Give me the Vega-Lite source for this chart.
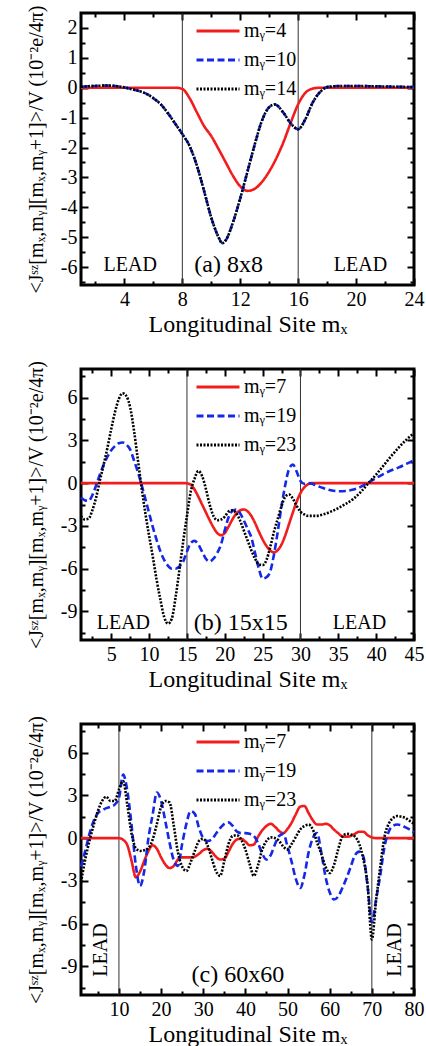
{
  "$schema": "https://vega.github.io/schema/vega-lite/v6.json",
  "padding": {"left": 24, "top": 0, "right": 5, "bottom": 5},
  "bounds": "flush",
  "spacing": 84,
  "resolve": {"scale": {"color": "independent", "strokeDash": "independent"}},
  "config": {
    "font": "Liberation Serif",
    "view": {"stroke": "black", "strokeWidth": 3},
    "axis": {"grid": false, "domain": false, "labelFont": "Liberation Serif", "labelFontSize": 20, "labelColor": "black", "titleFont": "Liberation Serif", "titleFontSize": 24, "titleFontWeight": "normal", "titleColor": "black", "tickColor": "black", "tickWidth": 2, "labelFlush": false, "labelOverlap": false, "labelPadding": 11},
    "legend": {"orient": "none", "title": null, "symbolType": "stroke", "symbolSize": 1849, "symbolStrokeWidth": 3, "clipHeight": 20, "rowPadding": 9, "labelOffset": 3, "labelFont": "Liberation Serif", "labelFontSize": 20, "labelColor": "black", "padding": 0}
  },
  "datasets": {
    "a": [
      {"x":1,"v":0,"s":"mᵧ=4"},{"x":4,"v":0,"s":"mᵧ=4"},{"x":7,"v":0,"s":"mᵧ=4"},{"x":7.5,"v":0,"s":"mᵧ=4"},{"x":8,"v":-0.04,"s":"mᵧ=4"},{"x":8.5,"v":-0.35,"s":"mᵧ=4"},{"x":9,"v":-0.82,"s":"mᵧ=4"},{"x":9.5,"v":-1.28,"s":"mᵧ=4"},{"x":10,"v":-1.62,"s":"mᵧ=4"},{"x":10.5,"v":-2.05,"s":"mᵧ=4"},{"x":11,"v":-2.5,"s":"mᵧ=4"},{"x":11.5,"v":-2.95,"s":"mᵧ=4"},{"x":12,"v":-3.3,"s":"mᵧ=4"},{"x":12.5,"v":-3.45,"s":"mᵧ=4"},{"x":13,"v":-3.38,"s":"mᵧ=4"},{"x":13.5,"v":-3.15,"s":"mᵧ=4"},{"x":14,"v":-2.8,"s":"mᵧ=4"},{"x":14.5,"v":-2.35,"s":"mᵧ=4"},{"x":15,"v":-1.8,"s":"mᵧ=4"},{"x":15.5,"v":-1.15,"s":"mᵧ=4"},{"x":16,"v":-0.55,"s":"mᵧ=4"},{"x":16.5,"v":-0.17,"s":"mᵧ=4"},{"x":17,"v":-0.03,"s":"mᵧ=4"},{"x":17.5,"v":0,"s":"mᵧ=4"},{"x":20,"v":0,"s":"mᵧ=4"},{"x":24,"v":0,"s":"mᵧ=4"},
      {"x":1,"v":0.03,"s":"mᵧ=10"},{"x":1.5,"v":0.05,"s":"mᵧ=10"},{"x":2,"v":0.06,"s":"mᵧ=10"},{"x":2.5,"v":0.07,"s":"mᵧ=10"},{"x":3,"v":0.07,"s":"mᵧ=10"},{"x":3.5,"v":0.05,"s":"mᵧ=10"},{"x":4,"v":0.01,"s":"mᵧ=10"},{"x":4.5,"v":-0.05,"s":"mᵧ=10"},{"x":5,"v":-0.11,"s":"mᵧ=10"},{"x":5.5,"v":-0.2,"s":"mᵧ=10"},{"x":6,"v":-0.35,"s":"mᵧ=10"},{"x":6.5,"v":-0.55,"s":"mᵧ=10"},{"x":7,"v":-0.85,"s":"mᵧ=10"},{"x":7.5,"v":-1.2,"s":"mᵧ=10"},{"x":8,"v":-1.55,"s":"mᵧ=10"},{"x":8.5,"v":-1.95,"s":"mᵧ=10"},{"x":9,"v":-2.6,"s":"mᵧ=10"},{"x":9.5,"v":-3.45,"s":"mᵧ=10"},{"x":10,"v":-4.35,"s":"mᵧ=10"},{"x":10.5,"v":-5.0,"s":"mᵧ=10"},{"x":10.75,"v":-5.2,"s":"mᵧ=10"},{"x":11,"v":-5.1,"s":"mᵧ=10"},{"x":11.5,"v":-4.5,"s":"mᵧ=10"},{"x":12,"v":-3.7,"s":"mᵧ=10"},{"x":12.5,"v":-2.8,"s":"mᵧ=10"},{"x":13,"v":-1.9,"s":"mᵧ=10"},{"x":13.5,"v":-1.1,"s":"mᵧ=10"},{"x":14,"v":-0.65,"s":"mᵧ=10"},{"x":14.4,"v":-0.56,"s":"mᵧ=10"},{"x":15,"v":-0.85,"s":"mᵧ=10"},{"x":15.5,"v":-1.2,"s":"mᵧ=10"},{"x":16,"v":-1.39,"s":"mᵧ=10"},{"x":16.5,"v":-1.05,"s":"mᵧ=10"},{"x":17,"v":-0.5,"s":"mᵧ=10"},{"x":17.5,"v":-0.15,"s":"mᵧ=10"},{"x":18,"v":0.02,"s":"mᵧ=10"},{"x":18.5,"v":0.05,"s":"mᵧ=10"},{"x":19,"v":0.06,"s":"mᵧ=10"},{"x":20,"v":0.06,"s":"mᵧ=10"},{"x":21,"v":0.05,"s":"mᵧ=10"},{"x":22,"v":0.04,"s":"mᵧ=10"},{"x":23,"v":0.03,"s":"mᵧ=10"},{"x":24,"v":0.02,"s":"mᵧ=10"},
      {"x":1,"v":0.03,"s":"mᵧ=14"},{"x":1.5,"v":0.05,"s":"mᵧ=14"},{"x":2,"v":0.06,"s":"mᵧ=14"},{"x":2.5,"v":0.07,"s":"mᵧ=14"},{"x":3,"v":0.07,"s":"mᵧ=14"},{"x":3.5,"v":0.05,"s":"mᵧ=14"},{"x":4,"v":0.01,"s":"mᵧ=14"},{"x":4.5,"v":-0.05,"s":"mᵧ=14"},{"x":5,"v":-0.11,"s":"mᵧ=14"},{"x":5.5,"v":-0.2,"s":"mᵧ=14"},{"x":6,"v":-0.35,"s":"mᵧ=14"},{"x":6.5,"v":-0.55,"s":"mᵧ=14"},{"x":7,"v":-0.85,"s":"mᵧ=14"},{"x":7.5,"v":-1.2,"s":"mᵧ=14"},{"x":8,"v":-1.55,"s":"mᵧ=14"},{"x":8.5,"v":-1.95,"s":"mᵧ=14"},{"x":9,"v":-2.6,"s":"mᵧ=14"},{"x":9.5,"v":-3.45,"s":"mᵧ=14"},{"x":10,"v":-4.35,"s":"mᵧ=14"},{"x":10.5,"v":-5.0,"s":"mᵧ=14"},{"x":10.75,"v":-5.2,"s":"mᵧ=14"},{"x":11,"v":-5.1,"s":"mᵧ=14"},{"x":11.5,"v":-4.5,"s":"mᵧ=14"},{"x":12,"v":-3.7,"s":"mᵧ=14"},{"x":12.5,"v":-2.8,"s":"mᵧ=14"},{"x":13,"v":-1.9,"s":"mᵧ=14"},{"x":13.5,"v":-1.1,"s":"mᵧ=14"},{"x":14,"v":-0.65,"s":"mᵧ=14"},{"x":14.4,"v":-0.56,"s":"mᵧ=14"},{"x":15,"v":-0.85,"s":"mᵧ=14"},{"x":15.5,"v":-1.2,"s":"mᵧ=14"},{"x":16,"v":-1.39,"s":"mᵧ=14"},{"x":16.5,"v":-1.05,"s":"mᵧ=14"},{"x":17,"v":-0.5,"s":"mᵧ=14"},{"x":17.5,"v":-0.15,"s":"mᵧ=14"},{"x":18,"v":0.02,"s":"mᵧ=14"},{"x":18.5,"v":0.05,"s":"mᵧ=14"},{"x":19,"v":0.06,"s":"mᵧ=14"},{"x":20,"v":0.06,"s":"mᵧ=14"},{"x":21,"v":0.05,"s":"mᵧ=14"},{"x":22,"v":0.04,"s":"mᵧ=14"},{"x":23,"v":0.03,"s":"mᵧ=14"},{"x":24,"v":0.02,"s":"mᵧ=14"}
    ],
    "b": [
      {"x":1,"v":0,"s":"mᵧ=7"},{"x":5,"v":0,"s":"mᵧ=7"},{"x":10,"v":0,"s":"mᵧ=7"},{"x":14.5,"v":0,"s":"mᵧ=7"},{"x":15,"v":-0.02,"s":"mᵧ=7"},{"x":15.5,"v":-0.12,"s":"mᵧ=7"},{"x":16,"v":-0.45,"s":"mᵧ=7"},{"x":16.5,"v":-0.95,"s":"mᵧ=7"},{"x":17,"v":-1.5,"s":"mᵧ=7"},{"x":17.5,"v":-2.05,"s":"mᵧ=7"},{"x":18,"v":-2.6,"s":"mᵧ=7"},{"x":18.5,"v":-3.1,"s":"mᵧ=7"},{"x":19,"v":-3.5,"s":"mᵧ=7"},{"x":19.5,"v":-3.65,"s":"mᵧ=7"},{"x":20,"v":-3.5,"s":"mᵧ=7"},{"x":20.5,"v":-3.05,"s":"mᵧ=7"},{"x":21,"v":-2.55,"s":"mᵧ=7"},{"x":21.5,"v":-2.15,"s":"mᵧ=7"},{"x":22,"v":-1.92,"s":"mᵧ=7"},{"x":22.5,"v":-1.85,"s":"mᵧ=7"},{"x":23,"v":-1.97,"s":"mᵧ=7"},{"x":23.5,"v":-2.3,"s":"mᵧ=7"},{"x":24,"v":-2.8,"s":"mᵧ=7"},{"x":24.5,"v":-3.4,"s":"mᵧ=7"},{"x":25,"v":-3.95,"s":"mᵧ=7"},{"x":25.5,"v":-4.4,"s":"mᵧ=7"},{"x":26,"v":-4.72,"s":"mᵧ=7"},{"x":26.5,"v":-4.85,"s":"mᵧ=7"},{"x":27,"v":-4.7,"s":"mᵧ=7"},{"x":27.5,"v":-4.3,"s":"mᵧ=7"},{"x":28,"v":-3.65,"s":"mᵧ=7"},{"x":28.5,"v":-2.85,"s":"mᵧ=7"},{"x":29,"v":-2.05,"s":"mᵧ=7"},{"x":29.5,"v":-1.3,"s":"mᵧ=7"},{"x":30,"v":-0.7,"s":"mᵧ=7"},{"x":30.5,"v":-0.3,"s":"mᵧ=7"},{"x":31,"v":-0.08,"s":"mᵧ=7"},{"x":31.5,"v":0,"s":"mᵧ=7"},{"x":35,"v":0,"s":"mᵧ=7"},{"x":40,"v":0,"s":"mᵧ=7"},{"x":45,"v":0,"s":"mᵧ=7"},
      {"x":1,"v":-1.0,"s":"mᵧ=19"},{"x":1.5,"v":-1.2,"s":"mᵧ=19"},{"x":2,"v":-1.25,"s":"mᵧ=19"},{"x":2.5,"v":-0.85,"s":"mᵧ=19"},{"x":3,"v":-0.15,"s":"mᵧ=19"},{"x":3.5,"v":0.6,"s":"mᵧ=19"},{"x":4,"v":1.3,"s":"mᵧ=19"},{"x":4.5,"v":1.85,"s":"mᵧ=19"},{"x":5,"v":2.3,"s":"mᵧ=19"},{"x":5.5,"v":2.6,"s":"mᵧ=19"},{"x":6,"v":2.8,"s":"mᵧ=19"},{"x":6.5,"v":2.85,"s":"mᵧ=19"},{"x":7,"v":2.7,"s":"mᵧ=19"},{"x":7.5,"v":2.35,"s":"mᵧ=19"},{"x":8,"v":1.6,"s":"mᵧ=19"},{"x":8.5,"v":0.8,"s":"mᵧ=19"},{"x":9,"v":-0.1,"s":"mᵧ=19"},{"x":9.5,"v":-1.1,"s":"mᵧ=19"},{"x":10,"v":-2.1,"s":"mᵧ=19"},{"x":10.5,"v":-3.1,"s":"mᵧ=19"},{"x":11,"v":-4.0,"s":"mᵧ=19"},{"x":11.5,"v":-4.8,"s":"mᵧ=19"},{"x":12,"v":-5.4,"s":"mᵧ=19"},{"x":12.5,"v":-5.8,"s":"mᵧ=19"},{"x":13,"v":-6.0,"s":"mᵧ=19"},{"x":13.5,"v":-6.0,"s":"mᵧ=19"},{"x":14,"v":-5.85,"s":"mᵧ=19"},{"x":14.5,"v":-5.5,"s":"mᵧ=19"},{"x":15,"v":-4.8,"s":"mᵧ=19"},{"x":15.5,"v":-4.2,"s":"mᵧ=19"},{"x":16,"v":-4.05,"s":"mᵧ=19"},{"x":16.5,"v":-4.3,"s":"mᵧ=19"},{"x":17,"v":-4.8,"s":"mᵧ=19"},{"x":17.5,"v":-5.3,"s":"mᵧ=19"},{"x":18,"v":-5.5,"s":"mᵧ=19"},{"x":18.5,"v":-5.3,"s":"mᵧ=19"},{"x":19,"v":-4.9,"s":"mᵧ=19"},{"x":19.5,"v":-4.3,"s":"mᵧ=19"},{"x":20,"v":-3.3,"s":"mᵧ=19"},{"x":20.5,"v":-2.4,"s":"mᵧ=19"},{"x":21,"v":-1.95,"s":"mᵧ=19"},{"x":21.5,"v":-1.85,"s":"mᵧ=19"},{"x":22,"v":-2.1,"s":"mᵧ=19"},{"x":22.5,"v":-2.6,"s":"mᵧ=19"},{"x":23,"v":-3.2,"s":"mᵧ=19"},{"x":23.5,"v":-3.8,"s":"mᵧ=19"},{"x":24,"v":-4.9,"s":"mᵧ=19"},{"x":24.5,"v":-6.0,"s":"mᵧ=19"},{"x":25,"v":-6.7,"s":"mᵧ=19"},{"x":25.5,"v":-6.6,"s":"mᵧ=19"},{"x":26,"v":-6.2,"s":"mᵧ=19"},{"x":26.5,"v":-5.0,"s":"mᵧ=19"},{"x":27,"v":-3.4,"s":"mᵧ=19"},{"x":27.5,"v":-1.6,"s":"mᵧ=19"},{"x":28,"v":-0.1,"s":"mᵧ=19"},{"x":28.5,"v":1.0,"s":"mᵧ=19"},{"x":29,"v":1.3,"s":"mᵧ=19"},{"x":29.5,"v":0.8,"s":"mᵧ=19"},{"x":30,"v":0.15,"s":"mᵧ=19"},{"x":30.5,"v":-0.05,"s":"mᵧ=19"},{"x":31,"v":0.0,"s":"mᵧ=19"},{"x":31.5,"v":-0.05,"s":"mᵧ=19"},{"x":32,"v":-0.15,"s":"mᵧ=19"},{"x":33,"v":-0.35,"s":"mᵧ=19"},{"x":34,"v":-0.5,"s":"mᵧ=19"},{"x":35,"v":-0.57,"s":"mᵧ=19"},{"x":36,"v":-0.55,"s":"mᵧ=19"},{"x":37,"v":-0.45,"s":"mᵧ=19"},{"x":38,"v":-0.25,"s":"mᵧ=19"},{"x":39,"v":0.05,"s":"mᵧ=19"},{"x":40,"v":0.35,"s":"mᵧ=19"},{"x":41,"v":0.65,"s":"mᵧ=19"},{"x":42,"v":0.9,"s":"mᵧ=19"},{"x":43,"v":1.1,"s":"mᵧ=19"},{"x":44,"v":1.35,"s":"mᵧ=19"},{"x":45,"v":1.6,"s":"mᵧ=19"},
      {"x":1,"v":-2.3,"s":"mᵧ=23"},{"x":1.5,"v":-2.55,"s":"mᵧ=23"},{"x":2,"v":-2.5,"s":"mᵧ=23"},{"x":2.5,"v":-1.9,"s":"mᵧ=23"},{"x":3,"v":-1.0,"s":"mᵧ=23"},{"x":3.5,"v":0.2,"s":"mᵧ=23"},{"x":4,"v":1.3,"s":"mᵧ=23"},{"x":4.5,"v":2.5,"s":"mᵧ=23"},{"x":5,"v":3.8,"s":"mᵧ=23"},{"x":5.5,"v":5.0,"s":"mᵧ=23"},{"x":6,"v":5.9,"s":"mᵧ=23"},{"x":6.5,"v":6.3,"s":"mᵧ=23"},{"x":7,"v":6.1,"s":"mᵧ=23"},{"x":7.5,"v":5.3,"s":"mᵧ=23"},{"x":8,"v":3.7,"s":"mᵧ=23"},{"x":8.5,"v":1.7,"s":"mᵧ=23"},{"x":9,"v":-0.3,"s":"mᵧ=23"},{"x":9.5,"v":-2.1,"s":"mᵧ=23"},{"x":10,"v":-3.7,"s":"mᵧ=23"},{"x":10.5,"v":-5.2,"s":"mᵧ=23"},{"x":11,"v":-6.8,"s":"mᵧ=23"},{"x":11.5,"v":-8.2,"s":"mᵧ=23"},{"x":12,"v":-9.4,"s":"mᵧ=23"},{"x":12.5,"v":-9.85,"s":"mᵧ=23"},{"x":13,"v":-9.5,"s":"mᵧ=23"},{"x":13.5,"v":-8.0,"s":"mᵧ=23"},{"x":14,"v":-6.1,"s":"mᵧ=23"},{"x":14.5,"v":-4.1,"s":"mᵧ=23"},{"x":15,"v":-2.3,"s":"mᵧ=23"},{"x":15.5,"v":-0.6,"s":"mᵧ=23"},{"x":16,"v":0.3,"s":"mᵧ=23"},{"x":16.5,"v":0.85,"s":"mᵧ=23"},{"x":17,"v":0.5,"s":"mᵧ=23"},{"x":17.5,"v":-0.4,"s":"mᵧ=23"},{"x":18,"v":-1.5,"s":"mᵧ=23"},{"x":18.5,"v":-2.3,"s":"mᵧ=23"},{"x":19,"v":-2.6,"s":"mᵧ=23"},{"x":19.5,"v":-2.55,"s":"mᵧ=23"},{"x":20,"v":-2.35,"s":"mᵧ=23"},{"x":20.5,"v":-2.0,"s":"mᵧ=23"},{"x":21,"v":-1.9,"s":"mᵧ=23"},{"x":21.5,"v":-2.1,"s":"mᵧ=23"},{"x":22,"v":-2.6,"s":"mᵧ=23"},{"x":22.5,"v":-3.3,"s":"mᵧ=23"},{"x":23,"v":-4.0,"s":"mᵧ=23"},{"x":23.5,"v":-4.7,"s":"mᵧ=23"},{"x":24,"v":-5.3,"s":"mᵧ=23"},{"x":24.5,"v":-5.7,"s":"mᵧ=23"},{"x":25,"v":-5.75,"s":"mᵧ=23"},{"x":25.5,"v":-5.4,"s":"mᵧ=23"},{"x":26,"v":-4.5,"s":"mᵧ=23"},{"x":26.5,"v":-3.4,"s":"mᵧ=23"},{"x":27,"v":-2.5,"s":"mᵧ=23"},{"x":27.5,"v":-1.6,"s":"mᵧ=23"},{"x":28,"v":-0.95,"s":"mᵧ=23"},{"x":28.5,"v":-0.8,"s":"mᵧ=23"},{"x":29,"v":-1.1,"s":"mᵧ=23"},{"x":29.5,"v":-1.6,"s":"mᵧ=23"},{"x":30,"v":-2.0,"s":"mᵧ=23"},{"x":30.5,"v":-2.2,"s":"mᵧ=23"},{"x":31,"v":-2.3,"s":"mᵧ=23"},{"x":32,"v":-2.3,"s":"mᵧ=23"},{"x":33,"v":-2.2,"s":"mᵧ=23"},{"x":34,"v":-2.0,"s":"mᵧ=23"},{"x":35,"v":-1.75,"s":"mᵧ=23"},{"x":36,"v":-1.45,"s":"mᵧ=23"},{"x":37,"v":-1.1,"s":"mᵧ=23"},{"x":38,"v":-0.6,"s":"mᵧ=23"},{"x":39,"v":0.0,"s":"mᵧ=23"},{"x":40,"v":0.6,"s":"mᵧ=23"},{"x":41,"v":1.25,"s":"mᵧ=23"},{"x":42,"v":1.9,"s":"mᵧ=23"},{"x":43,"v":2.5,"s":"mᵧ=23"},{"x":44,"v":3.05,"s":"mᵧ=23"},{"x":45,"v":3.5,"s":"mᵧ=23"}
    ],
    "c": [
      {"x":1,"v":0,"s":"mᵧ=7"},{"x":5,"v":0,"s":"mᵧ=7"},{"x":9,"v":0,"s":"mᵧ=7"},{"x":10,"v":0,"s":"mᵧ=7"},{"x":11,"v":-0.12,"s":"mᵧ=7"},{"x":12,"v":-0.5,"s":"mᵧ=7"},{"x":13,"v":-1.6,"s":"mᵧ=7"},{"x":14,"v":-2.75,"s":"mᵧ=7"},{"x":15,"v":-2.35,"s":"mᵧ=7"},{"x":16,"v":-1.6,"s":"mᵧ=7"},{"x":17,"v":-0.9,"s":"mᵧ=7"},{"x":18,"v":-0.5,"s":"mᵧ=7"},{"x":19,"v":-0.75,"s":"mᵧ=7"},{"x":20,"v":-1.35,"s":"mᵧ=7"},{"x":21,"v":-1.85,"s":"mᵧ=7"},{"x":22,"v":-2.1,"s":"mᵧ=7"},{"x":23,"v":-1.95,"s":"mᵧ=7"},{"x":24,"v":-1.5,"s":"mᵧ=7"},{"x":25,"v":-1.35,"s":"mᵧ=7"},{"x":26,"v":-1.35,"s":"mᵧ=7"},{"x":27,"v":-1.35,"s":"mᵧ=7"},{"x":28,"v":-1.3,"s":"mᵧ=7"},{"x":29,"v":-1.1,"s":"mᵧ=7"},{"x":30,"v":-0.85,"s":"mᵧ=7"},{"x":31,"v":-0.75,"s":"mᵧ=7"},{"x":32,"v":-0.95,"s":"mᵧ=7"},{"x":33,"v":-1.3,"s":"mᵧ=7"},{"x":34,"v":-1.5,"s":"mᵧ=7"},{"x":35,"v":-1.45,"s":"mᵧ=7"},{"x":36,"v":-0.95,"s":"mᵧ=7"},{"x":37,"v":-0.4,"s":"mᵧ=7"},{"x":38,"v":-0.1,"s":"mᵧ=7"},{"x":39,"v":-0.05,"s":"mᵧ=7"},{"x":40,"v":-0.25,"s":"mᵧ=7"},{"x":41,"v":-0.5,"s":"mᵧ=7"},{"x":42,"v":-0.45,"s":"mᵧ=7"},{"x":43,"v":0.1,"s":"mᵧ=7"},{"x":44,"v":0.55,"s":"mᵧ=7"},{"x":45,"v":0.85,"s":"mᵧ=7"},{"x":46,"v":1.0,"s":"mᵧ=7"},{"x":47,"v":0.8,"s":"mᵧ=7"},{"x":48,"v":0.5,"s":"mᵧ=7"},{"x":49,"v":0.35,"s":"mᵧ=7"},{"x":50,"v":0.65,"s":"mᵧ=7"},{"x":51,"v":1.1,"s":"mᵧ=7"},{"x":52,"v":1.7,"s":"mᵧ=7"},{"x":53,"v":2.2,"s":"mᵧ=7"},{"x":54,"v":2.25,"s":"mᵧ=7"},{"x":55,"v":1.75,"s":"mᵧ=7"},{"x":56,"v":1.25,"s":"mᵧ=7"},{"x":57,"v":0.95,"s":"mᵧ=7"},{"x":58,"v":0.95,"s":"mᵧ=7"},{"x":59,"v":1.0,"s":"mᵧ=7"},{"x":60,"v":0.9,"s":"mᵧ=7"},{"x":61,"v":0.6,"s":"mᵧ=7"},{"x":62,"v":0.35,"s":"mᵧ=7"},{"x":63,"v":0.12,"s":"mᵧ=7"},{"x":64,"v":0.1,"s":"mᵧ=7"},{"x":65,"v":0.15,"s":"mᵧ=7"},{"x":66,"v":0.3,"s":"mᵧ=7"},{"x":67,"v":0.45,"s":"mᵧ=7"},{"x":68,"v":0.45,"s":"mᵧ=7"},{"x":69,"v":0.2,"s":"mᵧ=7"},{"x":70,"v":0.05,"s":"mᵧ=7"},{"x":71,"v":0,"s":"mᵧ=7"},{"x":75,"v":0,"s":"mᵧ=7"},{"x":80,"v":0,"s":"mᵧ=7"},
      {"x":1,"v":-2.0,"s":"mᵧ=19"},{"x":2,"v":-0.9,"s":"mᵧ=19"},{"x":3,"v":0.3,"s":"mᵧ=19"},{"x":4,"v":1.2,"s":"mᵧ=19"},{"x":5,"v":1.75,"s":"mᵧ=19"},{"x":6,"v":1.95,"s":"mᵧ=19"},{"x":7,"v":2.1,"s":"mᵧ=19"},{"x":8,"v":2.2,"s":"mᵧ=19"},{"x":9,"v":2.35,"s":"mᵧ=19"},{"x":10,"v":2.8,"s":"mᵧ=19"},{"x":11,"v":4.45,"s":"mᵧ=19"},{"x":12,"v":3.3,"s":"mᵧ=19"},{"x":13,"v":0.9,"s":"mᵧ=19"},{"x":14,"v":-1.9,"s":"mᵧ=19"},{"x":15,"v":-3.35,"s":"mᵧ=19"},{"x":16,"v":-2.3,"s":"mᵧ=19"},{"x":17,"v":0.0,"s":"mᵧ=19"},{"x":18,"v":1.65,"s":"mᵧ=19"},{"x":19,"v":3.2,"s":"mᵧ=19"},{"x":20,"v":2.6,"s":"mᵧ=19"},{"x":21,"v":1.2,"s":"mᵧ=19"},{"x":22,"v":-0.3,"s":"mᵧ=19"},{"x":23,"v":-1.55,"s":"mᵧ=19"},{"x":24,"v":-1.95,"s":"mᵧ=19"},{"x":25,"v":-0.4,"s":"mᵧ=19"},{"x":26,"v":1.0,"s":"mᵧ=19"},{"x":27,"v":1.9,"s":"mᵧ=19"},{"x":28,"v":1.7,"s":"mᵧ=19"},{"x":29,"v":0.7,"s":"mᵧ=19"},{"x":30,"v":0.0,"s":"mᵧ=19"},{"x":31,"v":-0.2,"s":"mᵧ=19"},{"x":32,"v":-0.1,"s":"mᵧ=19"},{"x":33,"v":0.3,"s":"mᵧ=19"},{"x":34,"v":0.7,"s":"mᵧ=19"},{"x":35,"v":1.0,"s":"mᵧ=19"},{"x":36,"v":1.1,"s":"mᵧ=19"},{"x":37,"v":0.85,"s":"mᵧ=19"},{"x":38,"v":0.45,"s":"mᵧ=19"},{"x":39,"v":0.35,"s":"mᵧ=19"},{"x":40,"v":0.35,"s":"mᵧ=19"},{"x":41,"v":0.3,"s":"mᵧ=19"},{"x":42,"v":0.15,"s":"mᵧ=19"},{"x":43,"v":-0.35,"s":"mᵧ=19"},{"x":44,"v":-1.1,"s":"mᵧ=19"},{"x":45,"v":-1.5,"s":"mᵧ=19"},{"x":46,"v":-1.2,"s":"mᵧ=19"},{"x":47,"v":-0.45,"s":"mᵧ=19"},{"x":48,"v":0.15,"s":"mᵧ=19"},{"x":49,"v":0.3,"s":"mᵧ=19"},{"x":50,"v":-0.6,"s":"mᵧ=19"},{"x":51,"v":-1.7,"s":"mᵧ=19"},{"x":52,"v":-2.9,"s":"mᵧ=19"},{"x":53,"v":-3.5,"s":"mᵧ=19"},{"x":54,"v":-2.6,"s":"mᵧ=19"},{"x":55,"v":-1.0,"s":"mᵧ=19"},{"x":56,"v":0.0,"s":"mᵧ=19"},{"x":57,"v":0.35,"s":"mᵧ=19"},{"x":58,"v":-1.0,"s":"mᵧ=19"},{"x":59,"v":-2.7,"s":"mᵧ=19"},{"x":60,"v":-3.8,"s":"mᵧ=19"},{"x":61,"v":-4.3,"s":"mᵧ=19"},{"x":62,"v":-4.1,"s":"mᵧ=19"},{"x":63,"v":-3.5,"s":"mᵧ=19"},{"x":64,"v":-2.8,"s":"mᵧ=19"},{"x":65,"v":-2.0,"s":"mᵧ=19"},{"x":66,"v":-1.2,"s":"mᵧ=19"},{"x":67,"v":-0.95,"s":"mᵧ=19"},{"x":68,"v":-1.3,"s":"mᵧ=19"},{"x":69,"v":-3.4,"s":"mᵧ=19"},{"x":70,"v":-5.9,"s":"mᵧ=19"},{"x":71,"v":-4.3,"s":"mᵧ=19"},{"x":72,"v":-2.6,"s":"mᵧ=19"},{"x":73,"v":-0.6,"s":"mᵧ=19"},{"x":74,"v":0.45,"s":"mᵧ=19"},{"x":75,"v":0.85,"s":"mᵧ=19"},{"x":76,"v":0.95,"s":"mᵧ=19"},{"x":77,"v":0.9,"s":"mᵧ=19"},{"x":78,"v":0.75,"s":"mᵧ=19"},{"x":79,"v":0.6,"s":"mᵧ=19"},{"x":80,"v":0.4,"s":"mᵧ=19"},
      {"x":1,"v":-3.1,"s":"mᵧ=23"},{"x":2,"v":-1.5,"s":"mᵧ=23"},{"x":3,"v":-0.2,"s":"mᵧ=23"},{"x":4,"v":0.9,"s":"mᵧ=23"},{"x":5,"v":1.9,"s":"mᵧ=23"},{"x":6,"v":2.6,"s":"mᵧ=23"},{"x":7,"v":2.9,"s":"mᵧ=23"},{"x":8,"v":2.6,"s":"mᵧ=23"},{"x":9,"v":2.6,"s":"mᵧ=23"},{"x":10,"v":3.4,"s":"mᵧ=23"},{"x":11,"v":4.0,"s":"mᵧ=23"},{"x":12,"v":2.3,"s":"mᵧ=23"},{"x":13,"v":0.3,"s":"mᵧ=23"},{"x":14,"v":-0.7,"s":"mᵧ=23"},{"x":15,"v":-0.9,"s":"mᵧ=23"},{"x":16,"v":-0.85,"s":"mᵧ=23"},{"x":17,"v":-0.7,"s":"mᵧ=23"},{"x":18,"v":-0.1,"s":"mᵧ=23"},{"x":19,"v":1.0,"s":"mᵧ=23"},{"x":20,"v":2.2,"s":"mᵧ=23"},{"x":21,"v":2.6,"s":"mᵧ=23"},{"x":22,"v":2.5,"s":"mᵧ=23"},{"x":23,"v":0.9,"s":"mᵧ=23"},{"x":24,"v":-1.0,"s":"mᵧ=23"},{"x":25,"v":-2.0,"s":"mᵧ=23"},{"x":26,"v":-2.3,"s":"mᵧ=23"},{"x":27,"v":-1.7,"s":"mᵧ=23"},{"x":28,"v":-0.9,"s":"mᵧ=23"},{"x":29,"v":-0.2,"s":"mᵧ=23"},{"x":30,"v":-0.05,"s":"mᵧ=23"},{"x":31,"v":-0.5,"s":"mᵧ=23"},{"x":32,"v":-1.4,"s":"mᵧ=23"},{"x":33,"v":-2.3,"s":"mᵧ=23"},{"x":34,"v":-2.65,"s":"mᵧ=23"},{"x":35,"v":-1.6,"s":"mᵧ=23"},{"x":36,"v":-0.4,"s":"mᵧ=23"},{"x":37,"v":0.15,"s":"mᵧ=23"},{"x":38,"v":0.2,"s":"mᵧ=23"},{"x":39,"v":-0.1,"s":"mᵧ=23"},{"x":40,"v":-0.8,"s":"mᵧ=23"},{"x":41,"v":-1.8,"s":"mᵧ=23"},{"x":42,"v":-2.65,"s":"mᵧ=23"},{"x":43,"v":-1.9,"s":"mᵧ=23"},{"x":44,"v":-0.8,"s":"mᵧ=23"},{"x":45,"v":-0.2,"s":"mᵧ=23"},{"x":46,"v":0.05,"s":"mᵧ=23"},{"x":47,"v":0.0,"s":"mᵧ=23"},{"x":48,"v":-0.2,"s":"mᵧ=23"},{"x":49,"v":-0.6,"s":"mᵧ=23"},{"x":50,"v":-0.8,"s":"mᵧ=23"},{"x":51,"v":-0.4,"s":"mᵧ=23"},{"x":52,"v":0.1,"s":"mᵧ=23"},{"x":53,"v":0.6,"s":"mᵧ=23"},{"x":54,"v":0.85,"s":"mᵧ=23"},{"x":55,"v":0.95,"s":"mᵧ=23"},{"x":56,"v":0.6,"s":"mᵧ=23"},{"x":57,"v":-0.3,"s":"mᵧ=23"},{"x":58,"v":-1.1,"s":"mᵧ=23"},{"x":59,"v":-2.0,"s":"mᵧ=23"},{"x":60,"v":-2.45,"s":"mᵧ=23"},{"x":61,"v":-1.9,"s":"mᵧ=23"},{"x":62,"v":-0.8,"s":"mᵧ=23"},{"x":63,"v":0.1,"s":"mᵧ=23"},{"x":64,"v":0.3,"s":"mᵧ=23"},{"x":65,"v":0.25,"s":"mᵧ=23"},{"x":66,"v":0.1,"s":"mᵧ=23"},{"x":67,"v":-0.4,"s":"mᵧ=23"},{"x":68,"v":-1.5,"s":"mᵧ=23"},{"x":69,"v":-3.3,"s":"mᵧ=23"},{"x":70,"v":-7.1,"s":"mᵧ=23"},{"x":71,"v":-4.4,"s":"mᵧ=23"},{"x":72,"v":-2.0,"s":"mᵧ=23"},{"x":73,"v":0.1,"s":"mᵧ=23"},{"x":74,"v":1.0,"s":"mᵧ=23"},{"x":75,"v":1.4,"s":"mᵧ=23"},{"x":76,"v":1.55,"s":"mᵧ=23"},{"x":77,"v":1.5,"s":"mᵧ=23"},{"x":78,"v":1.4,"s":"mᵧ=23"},{"x":79,"v":1.2,"s":"mᵧ=23"},{"x":80,"v":1.0,"s":"mᵧ=23"}
    ]
  },
  "vconcat": [
    {
      "width": 333, "height": 272,
      "resolve": {"axis": {"x": "independent", "y": "independent"}},
      "layer": [
        {
          "data": {"values": [{"x": 8}, {"x": 16}]},
          "mark": {"type": "rule", "color": "#333", "strokeWidth": 1},
          "encoding": {"x": {"field": "x", "type": "quantitative", "scale": {"domain": [1, 24], "nice": false, "zero": false}, "axis": null}}
        },
        {
          "data": {"name": "a"},
          "mark": {"type": "line", "interpolate": "monotone", "strokeWidth": 2.6},
          "encoding": {
            "x": {"field": "x", "type": "quantitative", "scale": {"domain": [1, 24], "nice": false, "zero": false},
              "axis": {"orient": "bottom", "title": "Longitudinal Site mₓ", "values": [2,4,6,8,10,12,14,16,18,20,22,24], "labelExpr": "datum.value % 4 === 0 ? '' + datum.value : ''", "tickSize": {"condition": {"test": "datum.value % 4 === 0", "value": -7}, "value": -4}, "titlePadding": 0}},
            "y": {"field": "v", "type": "quantitative", "scale": {"domain": [-6.6, 2.5], "nice": false, "zero": false},
              "axis": {"orient": "left", "title": "<Jˢᶻ[mₓ,mᵧ][mₓ,mᵧ+1]>/V  (10⁻²e/4π)", "titleFontSize": 20, "values": [-6.5,-6,-5.5,-5,-4.5,-4,-3.5,-3,-2.5,-2,-1.5,-1,-0.5,0,0.5,1,1.5,2], "labelExpr": "datum.value % 1 === 0 ? '' + datum.value : ''", "tickSize": {"condition": {"test": "datum.value % 1 === 0", "value": -7}, "value": -4}, "titlePadding": 14}},
            "color": {"field": "s", "type": "nominal", "scale": {"domain": ["mᵧ=4", "mᵧ=10", "mᵧ=14"], "range": ["#f21c1c", "#1428e6", "#000000"]}, "legend": {"legendX": 114, "legendY": 8}},
            "strokeDash": {"field": "s", "type": "nominal", "scale": {"domain": ["mᵧ=4", "mᵧ=10", "mᵧ=14"], "range": [[1, 0], [7, 3.5], [2, 1.5]]}, "legend": {"legendX": 114, "legendY": 8}}
          }
        },
        {
          "data": {"values": [{"x": 4.4, "y": -5.93, "t": "LEAD"}, {"x": 20.3, "y": -5.93, "t": "LEAD"}]},
          "mark": {"type": "text", "fontSize": 20, "font": "Liberation Serif", "baseline": "middle", "align": "center", "color": "black"},
          "encoding": {
            "x": {"field": "x", "type": "quantitative", "scale": {"domain": [1, 24], "nice": false, "zero": false},
              "axis": {"orient": "top", "title": null, "labels": false, "values": [2,4,6,8,10,12,14,16,18,20,22,24], "tickSize": {"condition": {"test": "datum.value % 4 === 0", "value": -7}, "value": -4}}},
            "y": {"field": "y", "type": "quantitative", "scale": {"domain": [-6.6, 2.5], "nice": false, "zero": false},
              "axis": {"orient": "right", "title": null, "labels": false, "values": [-6.5,-6,-5.5,-5,-4.5,-4,-3.5,-3,-2.5,-2,-1.5,-1,-0.5,0,0.5,1,1.5,2], "tickSize": {"condition": {"test": "datum.value % 1 === 0", "value": -7}, "value": -4}}},
            "text": {"field": "t"}
          }
        },
        {
          "data": {"values": [{"x": 11.2, "y": -5.93, "t": "(a) 8x8"}]},
          "mark": {"type": "text", "fontSize": 24, "font": "Liberation Serif", "baseline": "middle", "align": "center", "color": "black"},
          "encoding": {
            "x": {"field": "x", "type": "quantitative", "scale": {"domain": [1, 24], "nice": false, "zero": false}, "axis": null},
            "y": {"field": "y", "type": "quantitative", "scale": {"domain": [-6.6, 2.5], "nice": false, "zero": false}, "axis": null},
            "text": {"field": "t"}
          }
        }
      ]
    },
    {
      "width": 333, "height": 271,
      "resolve": {"axis": {"x": "independent", "y": "independent"}},
      "layer": [
        {
          "data": {"values": [{"x": 15}, {"x": 30}]},
          "mark": {"type": "rule", "color": "#333", "strokeWidth": 1},
          "encoding": {"x": {"field": "x", "type": "quantitative", "scale": {"domain": [1, 45], "nice": false, "zero": false}, "axis": null}}
        },
        {
          "data": {"name": "b"},
          "mark": {"type": "line", "interpolate": "monotone", "strokeWidth": 2.6},
          "encoding": {
            "x": {"field": "x", "type": "quantitative", "scale": {"domain": [1, 45], "nice": false, "zero": false},
              "axis": {"orient": "bottom", "title": "Longitudinal Site mₓ", "values": [2.5,5,7.5,10,12.5,15,17.5,20,22.5,25,27.5,30,32.5,35,37.5,40,42.5,45], "labelExpr": "datum.value % 5 === 0 ? '' + datum.value : ''", "tickSize": {"condition": {"test": "datum.value % 5 === 0", "value": -7}, "value": -4}, "titlePadding": 0}},
            "y": {"field": "v", "type": "quantitative", "scale": {"domain": [-11, 8], "nice": false, "zero": false},
              "axis": {"orient": "left", "title": "<Jˢᶻ[mₓ,mᵧ][mₓ,mᵧ+1]>/V  (10⁻²e/4π)", "titleFontSize": 20, "values": [-10.5,-9,-7.5,-6,-4.5,-3,-1.5,0,1.5,3,4.5,6,7.5], "labelExpr": "datum.value % 3 === 0 ? '' + datum.value : ''", "tickSize": {"condition": {"test": "datum.value % 3 === 0", "value": -7}, "value": -4}, "titlePadding": 14}},
            "color": {"field": "s", "type": "nominal", "scale": {"domain": ["mᵧ=7", "mᵧ=19", "mᵧ=23"], "range": ["#f21c1c", "#1428e6", "#000000"]}, "legend": {"legendX": 114, "legendY": 8}},
            "strokeDash": {"field": "s", "type": "nominal", "scale": {"domain": ["mᵧ=7", "mᵧ=19", "mᵧ=23"], "range": [[1, 0], [7, 3.5], [2, 1.5]]}, "legend": {"legendX": 114, "legendY": 8}}
          }
        },
        {
          "data": {"values": [{"x": 6.6, "y": -9.8, "t": "LEAD"}, {"x": 37.8, "y": -9.8, "t": "LEAD"}]},
          "mark": {"type": "text", "fontSize": 20, "font": "Liberation Serif", "baseline": "middle", "align": "center", "color": "black"},
          "encoding": {
            "x": {"field": "x", "type": "quantitative", "scale": {"domain": [1, 45], "nice": false, "zero": false},
              "axis": {"orient": "top", "title": null, "labels": false, "values": [2.5,5,7.5,10,12.5,15,17.5,20,22.5,25,27.5,30,32.5,35,37.5,40,42.5,45], "tickSize": {"condition": {"test": "datum.value % 5 === 0", "value": -7}, "value": -4}}},
            "y": {"field": "y", "type": "quantitative", "scale": {"domain": [-11, 8], "nice": false, "zero": false},
              "axis": {"orient": "right", "title": null, "labels": false, "values": [-10.5,-9,-7.5,-6,-4.5,-3,-1.5,0,1.5,3,4.5,6,7.5], "tickSize": {"condition": {"test": "datum.value % 3 === 0", "value": -7}, "value": -4}}},
            "text": {"field": "t"}
          }
        },
        {
          "data": {"values": [{"x": 22.1, "y": -9.8, "t": "(b) 15x15"}]},
          "mark": {"type": "text", "fontSize": 24, "font": "Liberation Serif", "baseline": "middle", "align": "center", "color": "black"},
          "encoding": {
            "x": {"field": "x", "type": "quantitative", "scale": {"domain": [1, 45], "nice": false, "zero": false}, "axis": null},
            "y": {"field": "y", "type": "quantitative", "scale": {"domain": [-11, 8], "nice": false, "zero": false}, "axis": null},
            "text": {"field": "t"}
          }
        }
      ]
    },
    {
      "width": 333, "height": 271,
      "resolve": {"axis": {"x": "independent", "y": "independent"}},
      "layer": [
        {
          "data": {"values": [{"x": 10}, {"x": 70}]},
          "mark": {"type": "rule", "color": "#333", "strokeWidth": 1},
          "encoding": {"x": {"field": "x", "type": "quantitative", "scale": {"domain": [1, 80], "nice": false, "zero": false}, "axis": null}}
        },
        {
          "data": {"name": "c"},
          "mark": {"type": "line", "interpolate": "monotone", "strokeWidth": 2.6},
          "encoding": {
            "x": {"field": "x", "type": "quantitative", "scale": {"domain": [1, 80], "nice": false, "zero": false},
              "axis": {"orient": "bottom", "title": "Longitudinal Site mₓ", "values": [5,10,15,20,25,30,35,40,45,50,55,60,65,70,75,80], "labelExpr": "datum.value % 10 === 0 ? '' + datum.value : ''", "tickSize": {"condition": {"test": "datum.value % 10 === 0", "value": -7}, "value": -4}, "titlePadding": 0}},
            "y": {"field": "v", "type": "quantitative", "scale": {"domain": [-11, 8], "nice": false, "zero": false},
              "axis": {"orient": "left", "title": "<Jˢᶻ[mₓ,mᵧ][mₓ,mᵧ+1]>/V  (10⁻²e/4π)", "titleFontSize": 20, "values": [-10.5,-9,-7.5,-6,-4.5,-3,-1.5,0,1.5,3,4.5,6,7.5], "labelExpr": "datum.value % 3 === 0 ? '' + datum.value : ''", "tickSize": {"condition": {"test": "datum.value % 3 === 0", "value": -7}, "value": -4}, "titlePadding": 14}},
            "color": {"field": "s", "type": "nominal", "scale": {"domain": ["mᵧ=7", "mᵧ=19", "mᵧ=23"], "range": ["#f21c1c", "#1428e6", "#000000"]}, "legend": {"legendX": 114, "legendY": 8}},
            "strokeDash": {"field": "s", "type": "nominal", "scale": {"domain": ["mᵧ=7", "mᵧ=19", "mᵧ=23"], "range": [[1, 0], [7, 3.5], [2, 1.5]]}, "legend": {"legendX": 114, "legendY": 8}}
          }
        },
        {
          "data": {"values": [{"x": 5.8, "y": -7.85, "t": "LEAD"}, {"x": 75.4, "y": -7.85, "t": "LEAD"}]},
          "mark": {"type": "text", "fontSize": 20, "font": "Liberation Serif", "baseline": "middle", "align": "center", "angle": 270, "color": "black"},
          "encoding": {
            "x": {"field": "x", "type": "quantitative", "scale": {"domain": [1, 80], "nice": false, "zero": false},
              "axis": {"orient": "top", "title": null, "labels": false, "values": [5,10,15,20,25,30,35,40,45,50,55,60,65,70,75,80], "tickSize": {"condition": {"test": "datum.value % 10 === 0", "value": -7}, "value": -4}}},
            "y": {"field": "y", "type": "quantitative", "scale": {"domain": [-11, 8], "nice": false, "zero": false},
              "axis": {"orient": "right", "title": null, "labels": false, "values": [-10.5,-9,-7.5,-6,-4.5,-3,-1.5,0,1.5,3,4.5,6,7.5], "tickSize": {"condition": {"test": "datum.value % 3 === 0", "value": -7}, "value": -4}}},
            "text": {"field": "t"}
          }
        },
        {
          "data": {"values": [{"x": 38.2, "y": -9.6, "t": "(c) 60x60"}]},
          "mark": {"type": "text", "fontSize": 24, "font": "Liberation Serif", "baseline": "middle", "align": "center", "color": "black"},
          "encoding": {
            "x": {"field": "x", "type": "quantitative", "scale": {"domain": [1, 80], "nice": false, "zero": false}, "axis": null},
            "y": {"field": "y", "type": "quantitative", "scale": {"domain": [-11, 8], "nice": false, "zero": false}, "axis": null},
            "text": {"field": "t"}
          }
        }
      ]
    }
  ]
}
